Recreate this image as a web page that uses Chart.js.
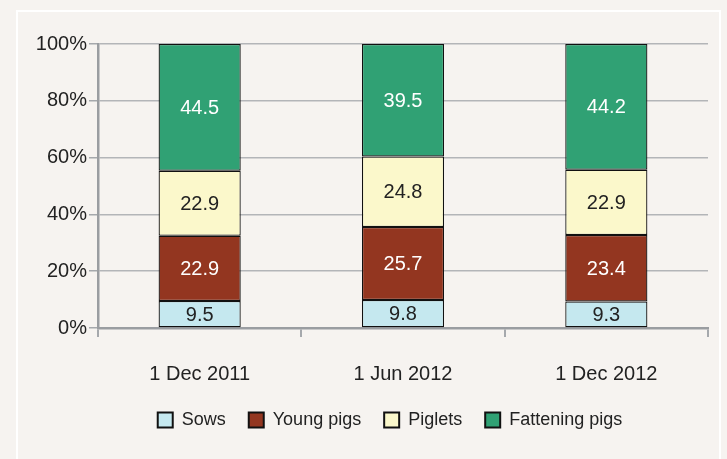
<!DOCTYPE html>
<html>
<head>
<meta charset="utf-8">
<script src="https://cdn.jsdelivr.net/npm/chart.js@4/dist/chart.umd.min.js"></script>
<style>
  html, body { margin: 0; padding: 0; background: #f6f3f0; }
  #wrap { width: 727px; height: 459px; position: relative; }
</style>
</head>
<body>
<div id="wrap"><canvas id="c" width="727" height="459"></canvas></div>
<script>
const categories = ['1 Dec 2011', '1 Jun 2012', '1 Dec 2012'];
const sows = [9.5, 9.8, 9.3];
const youngPigs = [22.9, 25.7, 23.4];
const piglets = [22.9, 24.8, 22.9];
const fatteningPigs = [44.5, 39.5, 44.2];
const yTicks = [0, 20, 40, 60, 80, 100];

const FONT = "'Liberation Sans', Arial, sans-serif";
const series = [
  { label: 'Sows', values: sows, color: '#c5e8ef', text: '#222222' },
  { label: 'Young pigs', values: youngPigs, color: '#933620', text: '#ffffff' },
  { label: 'Piglets', values: piglets, color: '#fbf8cb', text: '#222222' },
  { label: 'Fattening pigs', values: fatteningPigs, color: '#30a174', text: '#ffffff' }
];
const totals = categories.map((_, i) => series.reduce((s, d) => s + d.values[i], 0));

const bgPlugin = {
  id: 'bg',
  afterLayout(chart) {
    const l = chart.legend;
    if (l) { l.left = 72; l.right = 708; l.width = 636; }
  },
  beforeDraw(chart) {
    const ctx = chart.ctx;
    ctx.save();
    ctx.fillStyle = '#f6f3f0';
    ctx.fillRect(0, 0, chart.width, chart.height);
    ctx.strokeStyle = '#ffffff';
    ctx.lineWidth = 2;
    ctx.beginPath();
    ctx.moveTo(17, 470);
    ctx.lineTo(17, 11);
    ctx.lineTo(720, 11);
    ctx.lineTo(720, 470);
    ctx.stroke();
    ctx.restore();
  }
};

const labelPlugin = {
  id: 'barLabels',
  afterDatasetsDraw(chart) {
    const ctx = chart.ctx;
    ctx.save();
    ctx.font = '20px ' + FONT;
    ctx.textAlign = 'center';
    ctx.textBaseline = 'middle';
    chart.data.datasets.forEach((ds, di) => {
      const meta = chart.getDatasetMeta(di);
      meta.data.forEach((bar, i) => {
        ctx.fillStyle = series[di].text;
        ctx.fillText(series[di].values[i].toFixed(1), bar.x, (bar.y + bar.base) / 2 + 1);
      });
    });
    ctx.restore();
  }
};

new Chart(document.getElementById('c'), {
  type: 'bar',
  data: {
    labels: categories,
    datasets: series.map(s => ({
      label: s.label,
      data: s.values.map((v, i) => v / totals[i] * 100),
      backgroundColor: s.color,
      borderColor: '#111111',
      borderWidth: 1.25,
      borderSkipped: false,
      categoryPercentage: 1,
      barPercentage: 0.404
    }))
  },
  options: {
    responsive: false,
    animation: false,
    events: [],
    layout: { padding: { left: 0, right: 19, top: 44, bottom: 20 } },
    plugins: {
      tooltip: { enabled: false },
      legend: {
        position: 'bottom',
        labels: {
          font: { family: FONT, size: 18 },
          color: '#222222',
          boxWidth: 15,
          boxHeight: 15,
          padding: 23,
          generateLabels(chart) {
            return series.map((s, i) => ({
              text: s.label,
              fillStyle: s.color,
              strokeStyle: '#111111',
              lineWidth: 2,
              datasetIndex: i,
              fontColor: '#222222'
            }));
          }
        }
      }
    },
    scales: {
      x: {
        stacked: true,
        afterFit(scale) { scale.height = 60; },
        grid: {
          offset: true,
          color: ctx => (ctx.index === 3 ? '#a5a8ac' : 'rgba(0,0,0,0)'),
          lineWidth: 2,
          tickColor: '#a5a8ac',
          tickLength: 9,
          drawOnChartArea: true
        },
        border: { display: true, color: '#9a9da1', width: 2.5 },
        ticks: { font: { family: FONT, size: 20 }, color: '#222222', padding: 25, maxRotation: 0 }
      },
      y: {
        stacked: true,
        min: 0,
        max: 100,
        afterFit(scale) { scale.width = 98; },
        afterBuildTicks(scale) { scale.ticks = yTicks.map(v => ({ value: v })); },
        grid: { color: '#b3b5b8', lineWidth: 1.5, tickColor: '#a5a8ac', tickLength: 9 },
        border: { display: true, color: '#9a9da1', width: 2.5 },
        ticks: { font: { family: FONT, size: 20 }, color: '#222222', padding: 2, callback: v => v + '%' }
      }
    }
  },
  plugins: [bgPlugin, labelPlugin]
});
</script>
</body>
</html>
